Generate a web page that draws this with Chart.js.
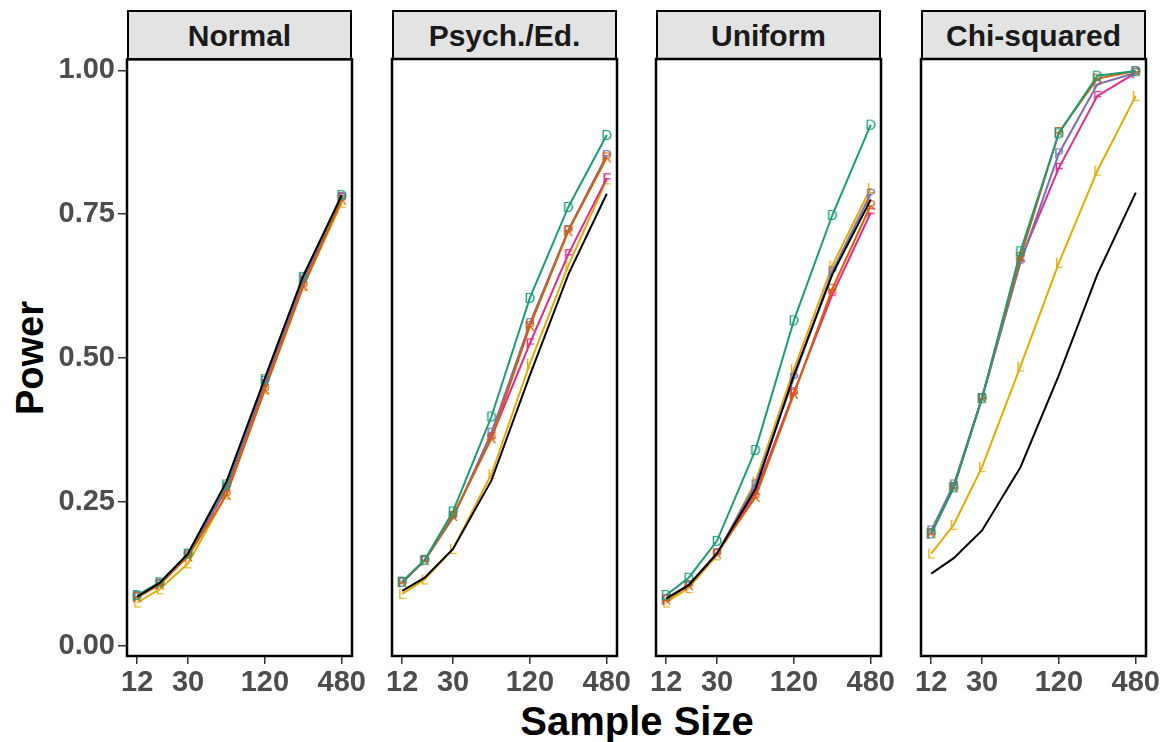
<!DOCTYPE html>
<html>
<head>
<meta charset="utf-8">
<script src="https://cdn.jsdelivr.net/npm/chart.js@4.4.1/dist/chart.umd.min.js"></script>
<style>
  body { margin: 0; background: #fff; width: 1167px; height: 742px; position: relative; overflow: hidden; font-family: "Liberation Sans", Arial, sans-serif; }
  canvas { position: absolute; }
  .strip { position: absolute; top: 10px; height: 50px; box-sizing: border-box; border: 2px solid #000; background: #e3e3e3;
           font-weight: bold; font-size: 30px; color: #1a1a1a; text-align: center; line-height: 47px; }
  .ytitle { position: absolute; left: 30px; top: 358px; transform: translate(-50%, -50%) rotate(-90deg); font-weight: bold; font-size: 38px; color: #000; white-space: nowrap; }
  .xtitle { position: absolute; left: 637px; top: 721px; transform: translate(-50%, -50%); font-weight: bold; font-size: 40px; color: #000; white-space: nowrap; }
</style>
</head>
<body>
<div class="ytitle">Power</div>
<div class="xtitle">Sample Size</div>
<script>
// valeurs
const sampleSizes = [12, 18, 30, 60, 120, 240, 480];
const xTickValues = [12, 30, 120, 480];
const yTickValues = [0, 0.25, 0.5, 0.75, 1];
const panelTitles = ['Normal', 'Psych./Ed.', 'Uniform', 'Chi-squared'];

// Normal
const normalBlack  = [0.085, 0.109, 0.160, 0.285, 0.465, 0.643, 0.783];
const normalGreen  = [0.088, 0.110, 0.160, 0.280, 0.463, 0.641, 0.783];
const normalOrange = [0.084, 0.106, 0.155, 0.262, 0.445, 0.625, 0.775];
const normalPurple = [0.086, 0.108, 0.159, 0.276, 0.460, 0.638, 0.780];
const normalPink   = [0.085, 0.107, 0.157, 0.272, 0.455, 0.634, 0.778];
const normalYellow = [0.075, 0.098, 0.143, 0.263, 0.447, 0.626, 0.770];

// Psych./Ed.
const psychBlack  = [0.095, 0.118, 0.168, 0.287, 0.470, 0.645, 0.785];
const psychGreen  = [0.111, 0.149, 0.233, 0.398, 0.604, 0.762, 0.887];
const psychOrange = [0.110, 0.148, 0.225, 0.360, 0.555, 0.720, 0.848];
const psychPurple = [0.111, 0.148, 0.222, 0.370, 0.560, 0.722, 0.852];
const psychPink   = [0.110, 0.148, 0.225, 0.362, 0.525, 0.680, 0.812];
const psychYellow = [0.090, 0.115, 0.168, 0.298, 0.490, 0.660, 0.810];

// Uniform
const uniformBlack  = [0.082, 0.105, 0.160, 0.272, 0.470, 0.645, 0.775];
const uniformGreen  = [0.088, 0.118, 0.182, 0.340, 0.565, 0.748, 0.905];
const uniformOrange = [0.080, 0.105, 0.160, 0.258, 0.437, 0.620, 0.765];
const uniformPurple = [0.080, 0.105, 0.160, 0.280, 0.465, 0.650, 0.785];
const uniformPink   = [0.080, 0.105, 0.160, 0.265, 0.440, 0.610, 0.752];
const uniformYellow = [0.075, 0.100, 0.157, 0.285, 0.480, 0.660, 0.795];

// Chi-squared
const chiBlack  = [0.125, 0.152, 0.200, 0.310, 0.470, 0.645, 0.787];
const chiGreen  = [0.195, 0.275, 0.430, 0.685, 0.890, 0.990, 0.998];
const chiOrange = [0.195, 0.275, 0.430, 0.675, 0.892, 0.985, 0.998];
const chiPurple = [0.200, 0.280, 0.430, 0.665, 0.855, 0.975, 0.995];
const chiPink   = [0.195, 0.275, 0.430, 0.670, 0.830, 0.955, 0.995];
const chiYellow = [0.160, 0.210, 0.310, 0.485, 0.665, 0.825, 0.955];

const panelSeries = [
    [normalBlack, normalGreen, normalOrange, normalPurple, normalPink, normalYellow],
    [psychBlack, psychGreen, psychOrange, psychPurple, psychPink, psychYellow],
    [uniformBlack, uniformGreen, uniformOrange, uniformPurple, uniformPink, uniformYellow],
    [chiBlack, chiGreen, chiOrange, chiPurple, chiPink, chiYellow]
];

const seriesColors  = ['#000000', '#1b9e77', '#d95f02', '#7570b3', '#e7298a', '#e6ab02'];
const seriesLetters = [null, 'D', 'R', 'P', 'F', 'L'];

// marqueurs en forme de lettre
function letterMarker(ch, color) {
    const c = document.createElement('canvas');
    c.width = 18; c.height = 18;
    const g = c.getContext('2d');
    g.font = '15px "Liberation Sans", Arial';
    g.fillStyle = color;
    g.textAlign = 'center';
    g.textBaseline = 'middle';
    g.fillText(ch, 9, 9.5);
    return c;
}

const panelBorder = {
    id: 'panelBorder',
    afterDraw(chart) {
        const { ctx, chartArea: a } = chart;
        ctx.save();
        ctx.strokeStyle = '#000';
        ctx.lineWidth = 2.5;
        ctx.strokeRect(a.left, a.top, a.right - a.left, a.bottom - a.top);
        ctx.restore();
    }
};

const panelLefts = [127, 392, 656, 921];
const panelW = 225, panelTop = 59, panelBottom = 656;
const padTop = 20, padRight = 25, padLeft = 20, yAxisW = 127, xAxisH = 52;
const tickFont = { family: '"Liberation Sans", Arial', size: 29, weight: 'bold' };

panelTitles.forEach((title, i) => {
    const strip = document.createElement('div');
    strip.className = 'strip';
    strip.style.left = panelLefts[i] + 'px';
    strip.style.width = panelW + 'px';
    strip.textContent = title;
    document.body.appendChild(strip);

    const first = i === 0;
    const left = first ? 0 : panelLefts[i] - padLeft;
    const width = (first ? yAxisW : padLeft) + panelW + padRight;
    const height = padTop + (panelBottom - panelTop) + xAxisH;

    const canvas = document.createElement('canvas');
    canvas.width = width; canvas.height = height;
    canvas.style.left = left + 'px';
    canvas.style.top = (panelTop - padTop) + 'px';
    document.body.appendChild(canvas);

    const datasets = panelSeries[i].map((vals, k) => ({
        data: vals.map((v, j) => ({ x: sampleSizes[j], y: v })),
        borderColor: seriesColors[k],
        borderWidth: 2,
        pointStyle: seriesLetters[k] ? letterMarker(seriesLetters[k], seriesColors[k]) : false,
        pointRadius: seriesLetters[k] ? 6 : 0,
        tension: 0,
        fill: false
    }));

    new Chart(canvas.getContext('2d'), {
        type: 'line',
        data: { datasets },
        plugins: [panelBorder],
        options: {
            responsive: false,
            animation: false,
            events: [],
            layout: { padding: { top: padTop, right: padRight, left: first ? 0 : padLeft, bottom: 0 } },
            plugins: { legend: { display: false }, tooltip: { enabled: false } },
            scales: {
                x: {
                    type: 'logarithmic',
                    min: 12 / Math.exp(0.05 * Math.log(40)),
                    max: 480 * Math.exp(0.05 * Math.log(40)),
                    afterBuildTicks: s => { s.ticks = xTickValues.map(v => ({ value: v })); },
                    afterFit: s => { s.height = xAxisH; },
                    grid: { drawOnChartArea: false, drawTicks: true, tickLength: 8, color: '#333', lineWidth: 1.5 },
                    border: { display: false },
                    ticks: { autoSkip: false, maxRotation: 0, padding: 2, color: '#4d4d4d', font: tickFont,
                             callback: v => String(v) }
                },
                y: {
                    display: first,
                    min: -0.018,
                    max: 1.019,
                    afterBuildTicks: s => { s.ticks = yTickValues.map(v => ({ value: v })); },
                    afterFit: s => { s.width = first ? yAxisW : 0; },
                    grid: { drawOnChartArea: false, drawTicks: true, tickLength: 9, color: '#333', lineWidth: 1.5 },
                    border: { display: false },
                    ticks: { padding: 3, color: '#4d4d4d', font: tickFont, callback: v => v.toFixed(2) }
                }
            }
        }
    });
});
</script>
</body>
</html>
